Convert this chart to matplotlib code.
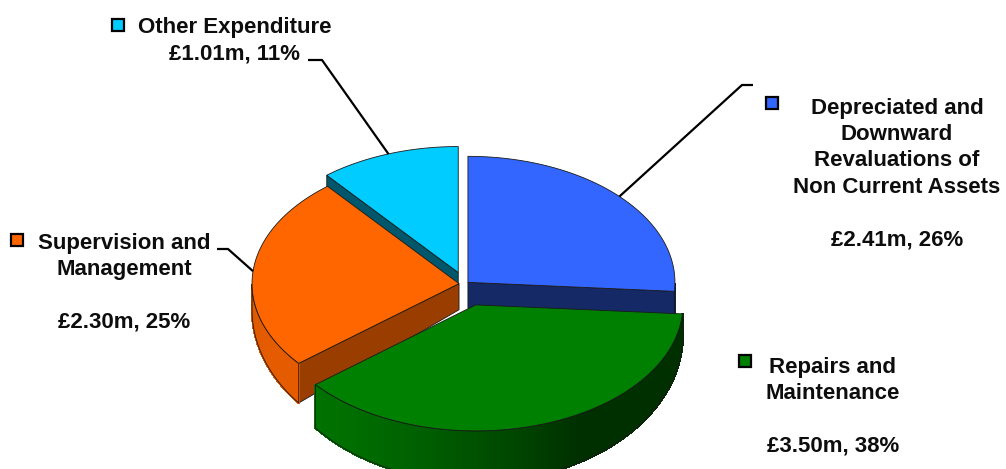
import numpy as np
import matplotlib
matplotlib.use('Agg')
import matplotlib.pyplot as plt
from matplotlib.patches import Polygon
from matplotlib.colors import to_rgb

# data
labels = ['Depreciated and\nDownward\nRevaluations of\nNon Current Assets',
          'Repairs and\nMaintenance',
          'Supervision and\nManagement',
          'Other Expenditure']
values = [2.41, 3.50, 2.30, 1.01]
colors = ['#3366FF', '#008000', '#FF6600', '#00CCFF']
explode = [4, 36, 6, 20]
radial_shade = [0.4, 0.4, 0.6, 0.42]

plt.rcParams['font.family'] = ['Liberation Sans', 'DejaVu Sans']

total = sum(values)
pcts = [v / total * 100 for v in values]

# pie geometry (pixel space, y down)
cx, cy = 465, 284
rx, ry = 207, 126
k = ry / rx
light = -150.0

# start at 12 o'clock, go clockwise
hi_ang, lo_ang, mid_ang = [], [], []
start = 90.0
for v in values:
    span = 360.0 * v / total
    hi_ang.append(start)
    lo_ang.append(start - span)
    mid_ang.append(start - span / 2)
    start -= span

apex = []
for e, m in zip(explode, mid_ang):
    r = np.radians(m)
    apex.append((cx + e * np.cos(r), cy - e * np.sin(r) * k))


def rim(p, th):
    r = np.radians(th)
    return p[0] + rx * np.cos(r), p[1] - ry * np.sin(r)


def depth(y):
    return 26 + max(0.0, y - 283) * 0.17


def shade(col, f):
    return tuple(min(1, c * f) for c in to_rgb(col))


def wall_factor(th):
    return 0.37 + 0.53 * max(0.0, np.cos(np.radians(th - light)))


fig = plt.figure(figsize=(10.06, 4.69), dpi=100)
ax = fig.add_axes([0, 0, 1, 1])
ax.set_xlim(0, 1006)
ax.set_ylim(469, 0)
ax.axis('off')

edge = '#1a1a1a'


def draw_slice(i):
    p = apex[i]
    col = colors[i]
    lo, hi = lo_ang[i], hi_ang[i]

    # cut faces that look towards the viewer
    for ang, nrm in ((lo, lo - 90), (hi, hi + 90)):
        if np.sin(np.radians(nrm)) < -1e-3:
            qx, qy = rim(p, ang)
            quad = [p, (qx, qy), (qx, qy + depth(qy)), (p[0], p[1] + depth(p[1]))]
            ax.add_patch(Polygon(quad, closed=True, fc=shade(col, radial_shade[i]),
                                 ec=edge, lw=0.6))

    # outer curved wall, shaded strip by strip
    th = np.linspace(lo, hi, 160)
    front = th[np.sin(np.radians(th)) < 0]
    if len(front) > 1:
        for a, b in zip(front[:-1], front[1:]):
            x1, y1 = rim(p, a)
            x2, y2 = rim(p, b)
            c = shade(col, wall_factor((a + b) / 2))
            quad = [(x1, y1), (x2, y2), (x2, y2 + depth(y2)), (x1, y1 + depth(y1))]
            ax.add_patch(Polygon(quad, closed=True, fc=c, ec=c, lw=1.0,
                                 antialiased=False))
        top = [rim(p, a) for a in front]
        bot = [(x, y + depth(y)) for x, y in top]
        ax.add_patch(Polygon(top + bot[::-1], closed=True, fc='none', ec=edge, lw=0.6))

    # top face
    pts = [p] + [rim(p, a) for a in th]
    ax.add_patch(Polygon(pts, closed=True, fc=col, ec=edge, lw=0.6))


# back to front
for i in (3, 0, 2, 1):
    draw_slice(i)

font = dict(fontsize=16, fontweight='bold', color='#0d0d0d', ha='center', va='center',
            linespacing=1.33)

# label layout: text centre, marker position, leader elbow (or None)
text_pos = [(897, 174), (833, 407), (124, 283), (235, 41)]
marker_pos = [(772, 103), (745, 361), (17, 240), (118, 25)]
elbows = [((753, 85), (742, 85)), None, ((217, 249), (228, 249)), ((308, 60), (322, 60))]

for i in range(len(values)):
    amount = '£%.2fm, %d%%' % (values[i], round(pcts[i]))
    sep = '\n' if i == 3 else '\n\n'
    ax.text(text_pos[i][0], text_pos[i][1], labels[i] + sep + amount, **font)
    ax.plot(*marker_pos[i], marker='s', ms=9, mfc=colors[i], mec='black', mew=1.6)
    if elbows[i] is not None:
        ax_, ay_ = rim(apex[i], mid_ang[i])
        (x0, y0), (x1, y1) = elbows[i]
        ax.plot([x0, x1, ax_], [y0, y1, ay_], color='black', lw=1.6,
                solid_capstyle='butt', solid_joinstyle='miter')

fig.savefig('out.png', dpi=100)
